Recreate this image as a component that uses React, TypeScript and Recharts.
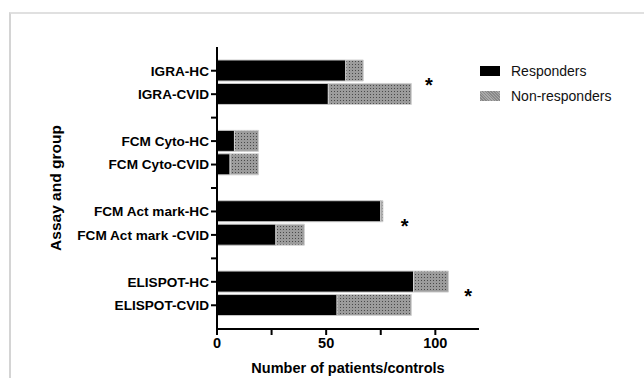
import { BarChart, Bar, XAxis, YAxis, ReferenceDot } from 'recharts';

// rows top to bottom; blank rows keep the gap (and tick) between assays
const rowIds = [
  'IGRA-HC', 'IGRA-CVID', 'gap1',
  'FCM Cyto-HC', 'FCM Cyto-CVID', 'gap2',
  'FCM Act mark-HC', 'FCM Act mark -CVID', 'gap3',
  'ELISPOT-HC', 'ELISPOT-CVID',
];
const responders = [59, 51, 0, 8, 6, 0, 75, 27, 0, 90, 55];
const nonResponders = [8, 38, 0, 11, 13, 0, 1, 13, 0, 16, 34];
const xTicks = [0, 25, 50, 75, 100];

// significance marks: [x value, row]
const stars: [number, string][] = [
  [97, 'IGRA-HC'],
  [86, 'FCM Act mark-HC'],
  [115, 'ELISPOT-HC'],
];

const data = rowIds.map((id, i) => ({
  id,
  responders: responders[i],
  nonResponders: nonResponders[i],
}));

const font = 'Liberation Sans, Arial, sans-serif';

export default function App() {
  return (
    <div style={{ position: 'absolute', left: 0, top: 0, width: 644, height: 378, background: '#fff', fontFamily: font }}>
      <div style={{ position: 'absolute', left: 9, top: 12, width: 640, height: 370, borderLeft: '2px solid #d4d4d4', borderTop: '2px solid #e0e0e0' }} />
      <BarChart
        width={644}
        height={378}
        data={data}
        layout="vertical"
        margin={{ top: 47, right: 165, bottom: 9, left: 9 }}
        barCategoryGap={1}
      >
        <defs>
          <pattern id="dots" width="3" height="3" patternUnits="userSpaceOnUse">
            <rect width="3" height="3" fill="#9c9c9c" />
            <rect x="1" y="1" width="1" height="1" fill="#4a4a4a" />
          </pattern>
        </defs>
        <XAxis
          type="number"
          domain={[0, 120]}
          ticks={xTicks}
          tickFormatter={(v: number) => (v % 50 === 0 ? String(v) : '')}
          axisLine={{ stroke: '#000', strokeWidth: 2 }}
          tickLine={{ stroke: '#000', strokeWidth: 2 }}
          tickSize={6}
          tick={{ fill: '#000', fontSize: 14.5, fontWeight: 'bold', fontFamily: font, dy: 1 }}
          height={40}
          label={{ value: 'Number of patients/controls', position: 'insideBottom', offset: -4, fill: '#000', fontSize: 14.5, fontWeight: 'bold', fontFamily: font }}
        />
        <YAxis
          type="category"
          dataKey="id"
          width={208}
          padding={{ top: 12, bottom: 12 }}
          tickFormatter={(v: string) => (v.startsWith('gap') ? '' : v)}
          axisLine={{ stroke: '#000', strokeWidth: 2 }}
          tickLine={{ stroke: '#000', strokeWidth: 2 }}
          tickSize={6}
          interval={0}
          tick={{ fill: '#000', fontSize: 13.6, fontWeight: 'bold', fontFamily: font }}
          label={{ value: 'Assay and group', angle: -90, position: 'insideLeft', offset: 46, fill: '#000', fontSize: 15.5, fontWeight: 'bold', fontFamily: font, style: { textAnchor: 'middle' } }}
        />
        <Bar dataKey="responders" stackId="a" fill="#000" stroke="#c8c8c8" strokeWidth={1} isAnimationActive={false} />
        <Bar dataKey="nonResponders" stackId="a" fill="url(#dots)" stroke="#d0d0d0" strokeWidth={1} isAnimationActive={false} />
        {stars.map(([x, y], i) => (
          <ReferenceDot
            key={i}
            x={x}
            y={y}
            r={0}
            ifOverflow="visible"
            label={{ value: '*', position: 'center', dy: 14, fill: '#000', fontSize: 20, fontWeight: 'bold', fontFamily: font }}
          />
        ))}
      </BarChart>
      <div style={{ position: 'absolute', left: 480, top: 60, fontSize: 14, color: '#111' }}>
        <div style={{ display: 'flex', alignItems: 'center', height: 22 }}>
          <div style={{ width: 20, height: 10, background: '#000', marginRight: 11 }} />
          Responders
        </div>
        <div style={{ display: 'flex', alignItems: 'center', height: 22, marginTop: 3 }}>
          <div style={{ width: 20, height: 10, background: 'repeating-linear-gradient(45deg,#888 0 1px,#aaa 1px 2px)', marginRight: 11 }} />
          Non-responders
        </div>
      </div>
    </div>
  );
}
